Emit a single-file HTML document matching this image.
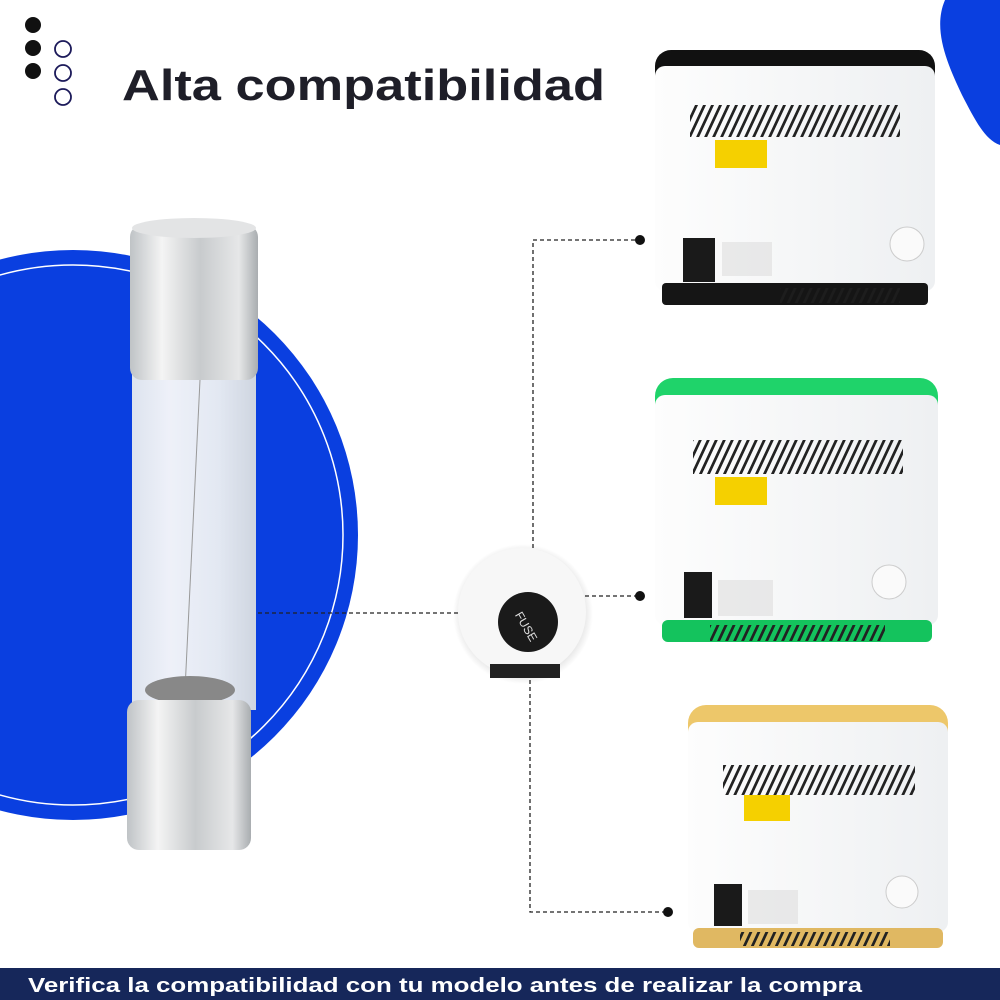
<!DOCTYPE html>
<html><head><meta charset="utf-8"><style>
html,body{margin:0;padding:0;width:1000px;height:1000px;overflow:hidden;background:#fff;font-family:"Liberation Sans",sans-serif}
</style></head><body>
<svg width="1000" height="1000" viewBox="0 0 1000 1000" xmlns="http://www.w3.org/2000/svg">
<defs>
<pattern id="vent" width="8" height="10" patternUnits="userSpaceOnUse" patternTransform="skewX(-25)">
<rect width="3" height="10" fill="#222"/></pattern>
<linearGradient id="glass" x1="0" x2="1"><stop offset="0" stop-color="#e8ecef"/><stop offset="0.3" stop-color="#fafafa"/><stop offset="0.7" stop-color="#eef1f3"/><stop offset="1" stop-color="#d9dde0"/></linearGradient>
<linearGradient id="metal" x1="0" x2="1"><stop offset="0" stop-color="#bfc3c6"/><stop offset="0.25" stop-color="#f4f4f4"/><stop offset="0.55" stop-color="#c8cbcd"/><stop offset="0.85" stop-color="#e6e7e8"/><stop offset="1" stop-color="#a9adb0"/></linearGradient>
<linearGradient id="dev" x1="0" x2="1"><stop offset="0" stop-color="#fdfdfd"/><stop offset="1" stop-color="#eef0f2"/></linearGradient>
<radialGradient id="sh"><stop offset="0.8" stop-color="#000" stop-opacity="0.15"/><stop offset="1" stop-color="#000" stop-opacity="0"/></radialGradient>
</defs>
<path d="M945 0 L1000 0 L1000 145 C985 140 975 120 962 95 C948 65 932 30 945 0Z" fill="#0a3fe0"/>
<circle cx="33" cy="25" r="8" fill="#111"/><circle cx="33" cy="48" r="8" fill="#111"/><circle cx="33" cy="71" r="8" fill="#111"/>
<circle cx="63" cy="49" r="8" fill="none" stroke="#1c1a5a" stroke-width="1.8"/><circle cx="63" cy="73" r="8" fill="none" stroke="#1c1a5a" stroke-width="1.8"/><circle cx="63" cy="97" r="8" fill="none" stroke="#1c1a5a" stroke-width="1.8"/>
<text x="122" y="100" font-size="44" font-weight="bold" fill="#1e1e28" textLength="483" lengthAdjust="spacingAndGlyphs">Alta compatibilidad</text>
<circle cx="73" cy="535" r="285" fill="#0a3fe0"/>
<circle cx="73" cy="535" r="270" fill="none" stroke="#fff" stroke-width="1.5"/>
<rect x="132" y="370" width="124" height="340" fill="url(#glass)" opacity="0.95"/>
<line x1="200" y1="380" x2="185" y2="690" stroke="#999" stroke-width="1"/>
<ellipse cx="190" cy="690" rx="45" ry="14" fill="#888"/>
<rect x="127" y="700" width="124" height="150" rx="12" fill="url(#metal)"/>
<rect x="130" y="225" width="128" height="155" rx="12" fill="url(#metal)"/>
<ellipse cx="194" cy="228" rx="62" ry="10" fill="#e3e4e5"/>
<g stroke="#222" stroke-width="1.3" stroke-dasharray="4,3" fill="none">
<line x1="258" y1="613" x2="460" y2="613"/>
<polyline points="533,590 533,240 640,240"/>
<line x1="585" y1="596" x2="640" y2="596"/>
<polyline points="530,680 530,912 668,912"/>
</g>
<circle cx="640" cy="240" r="5" fill="#111"/><circle cx="640" cy="596" r="5" fill="#111"/><circle cx="668" cy="912" r="5" fill="#111"/>
<circle cx="523" cy="614" r="70" fill="url(#sh)"/>
<circle cx="522" cy="612" r="64" fill="#f7f7f7"/>
<rect x="490" y="664" width="70" height="14" fill="#222"/>
<circle cx="528" cy="622" r="30" fill="#1a1a1a"/>
<text x="515" y="630" font-size="12" fill="#ddd" transform="rotate(60 528 622)">FUSE</text>
<rect x="655" y="50" width="280" height="70" rx="16" fill="#111"/>
<rect x="655" y="66" width="280" height="225" rx="10" fill="url(#dev)"/>
<rect x="662" y="283" width="266" height="22" rx="4" fill="#151515"/>
<rect x="780" y="288" width="120" height="15" fill="url(#vent)" opacity=".6"/>
<rect x="690" y="105" width="210" height="32" fill="url(#vent)"/>
<rect x="715" y="140" width="52" height="28" fill="#f5d000"/>
<rect x="683" y="238" width="32" height="44" fill="#1a1a1a"/>
<rect x="722" y="242" width="50" height="34" fill="#ddd" opacity=".6"/>
<circle cx="907" cy="244" r="17" fill="#fafafa" stroke="#ccc"/>
<rect x="655" y="378" width="283" height="60" rx="18" fill="#1fd36a"/>
<rect x="655" y="395" width="283" height="230" rx="10" fill="url(#dev)"/>
<rect x="662" y="620" width="270" height="22" rx="6" fill="#14c35d"/>
<rect x="710" y="625" width="175" height="16" fill="url(#vent)"/>
<rect x="693" y="440" width="210" height="34" fill="url(#vent)"/>
<rect x="715" y="477" width="52" height="28" fill="#f5d000"/>
<rect x="684" y="572" width="28" height="46" fill="#1a1a1a"/>
<rect x="718" y="580" width="55" height="36" fill="#ddd" opacity=".6"/>
<circle cx="889" cy="582" r="17" fill="#fafafa" stroke="#ccc"/>
<rect x="688" y="705" width="260" height="60" rx="18" fill="#edc76a"/>
<rect x="688" y="722" width="260" height="210" rx="10" fill="url(#dev)"/>
<rect x="693" y="928" width="250" height="20" rx="6" fill="#e0b862"/>
<rect x="740" y="932" width="150" height="14" fill="url(#vent)"/>
<rect x="723" y="765" width="192" height="30" fill="url(#vent)"/>
<rect x="744" y="795" width="46" height="26" fill="#f5d000"/>
<rect x="714" y="884" width="28" height="42" fill="#1a1a1a"/>
<rect x="748" y="890" width="50" height="34" fill="#ddd" opacity=".6"/>
<circle cx="902" cy="892" r="16" fill="#fafafa" stroke="#ccc"/>
<rect x="0" y="968" width="1000" height="32" fill="#16275a"/>
<text x="28" y="992" font-size="20.5" font-weight="bold" fill="#fff" textLength="834" lengthAdjust="spacingAndGlyphs">Verifica la compatibilidad con tu modelo antes de realizar la compra</text>
</svg>
</body></html>
